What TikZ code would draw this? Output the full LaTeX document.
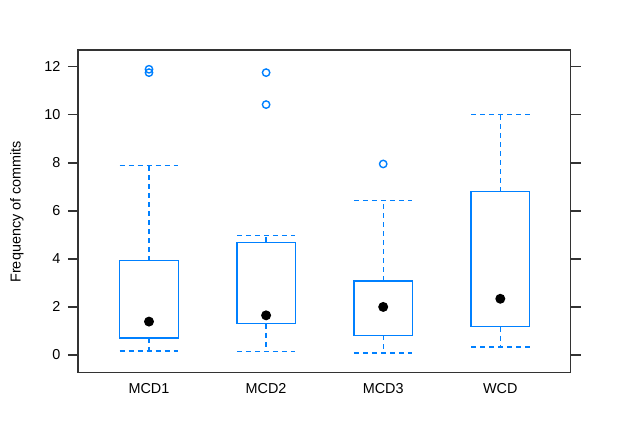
\documentclass[tikz,border=0pt]{standalone}
\usepackage{fontspec}
\setmainfont{Liberation Sans}
\definecolor{plotblue}{HTML}{0080FF}
\tikzset{
  frameline/.style={draw=black!80, line width=1.5pt},
  boxline/.style={draw=plotblue, line width=1.4pt},
  whisker/.style={draw=plotblue, line width=1.4pt, dash pattern=on 5pt off 4pt},
  outlier/.style={draw=plotblue, line width=1.4pt},
  median/.style={fill=black},
  ticklabel/.style={anchor=east, inner xsep=7.5pt, font=\fontsize{14.4}{17}\selectfont},
  catlabel/.style={anchor=base, font=\fontsize{14.4}{17}\selectfont},
}
\begin{document}
\begin{tikzpicture}[x=1pt,y=1pt]
\useasboundingbox (0,0) rectangle (621,435);

\begin{scope}[x=117.1pt, y=24.03pt, shift={(31.9pt,80pt)}]

% panel and ticks
\draw[frameline] (0.394,-0.737) rectangle (4.601,12.69);
\draw[frameline] (0.308,0)--(0.394,0);   \draw[frameline] (4.601,0)--(4.689,0);
\draw[frameline] (0.308,2)--(0.394,2);   \draw[frameline] (4.601,2)--(4.689,2);
\draw[frameline] (0.308,4)--(0.394,4);   \draw[frameline] (4.601,4)--(4.689,4);
\draw[frameline] (0.308,6)--(0.394,6);   \draw[frameline] (4.601,6)--(4.689,6);
\draw[frameline] (0.308,8)--(0.394,8);   \draw[frameline] (4.601,8)--(4.689,8);
\draw[frameline] (0.308,10)--(0.394,10); \draw[frameline] (4.601,10)--(4.689,10);
\draw[frameline] (0.308,12)--(0.394,12); \draw[frameline] (4.601,12)--(4.689,12);

\node[ticklabel] (y0) at (0.308,0) {0};
\node[ticklabel] (y2) at (0.308,2) {2};
\node[ticklabel] (y4) at (0.308,4) {4};
\node[ticklabel] (y6) at (0.308,6) {6};
\node[ticklabel] (y8) at (0.308,8) {8};
\node[ticklabel] (y10) at (0.308,10) {10};
\node[ticklabel] (y12) at (0.308,12) {12};

\node[catlabel, rotate=90] (ylabel) at (-0.097,5.96) {Frequency of commits};

% MCD1
\draw[whisker] (1,3.92)--(1,7.89);
\draw[whisker] (0.75,7.89)--(1.25,7.89);
\draw[whisker] (1,0.71)--(1,0.17);
\draw[whisker] (0.75,0.17)--(1.25,0.17);
\draw[boxline] (0.75,0.71) rectangle (1.25,3.92);
\fill[median] (1,1.39) circle(5pt);
\draw[outlier] (1,11.89) circle(3.7pt);
\draw[outlier] (1,11.75) circle(3.7pt);
\node[catlabel] (mcd1) at (1,-1.62) {MCD1};

% MCD2
\draw[whisker] (2,4.69)--(2,4.97);
\draw[whisker] (1.75,4.97)--(2.25,4.97);
\draw[whisker] (2,1.30)--(2,0.15);
\draw[whisker] (1.75,0.15)--(2.25,0.15);
\draw[boxline] (1.75,1.30) rectangle (2.25,4.69);
\fill[median] (2,1.65) circle(5pt);
\draw[outlier] (2,11.75) circle(3.7pt);
\draw[outlier] (2,10.42) circle(3.7pt);
\node[catlabel] (mcd2) at (2,-1.62) {MCD2};

% MCD3
\draw[whisker] (3,3.08)--(3,6.42);
\draw[whisker] (2.75,6.42)--(3.25,6.42);
\draw[whisker] (3,0.82)--(3,0.08);
\draw[whisker] (2.75,0.08)--(3.25,0.08);
\draw[boxline] (2.75,0.82) rectangle (3.25,3.08);
\fill[median] (3,2.0) circle(5pt);
\draw[outlier] (3,7.95) circle(3.7pt);
\node[catlabel] (mcd3) at (3,-1.62) {MCD3};

% WCD
\draw[whisker] (4,6.80)--(4,10.0);
\draw[whisker] (3.75,10.0)--(4.25,10.0);
\draw[whisker] (4,1.18)--(4,0.33);
\draw[whisker] (3.75,0.33)--(4.25,0.33);
\draw[boxline] (3.75,1.18) rectangle (4.25,6.80);
\fill[median] (4,2.34) circle(5pt);
\node[catlabel] (wcd) at (4,-1.62) {WCD};

\end{scope}
\end{tikzpicture}
\end{document}
